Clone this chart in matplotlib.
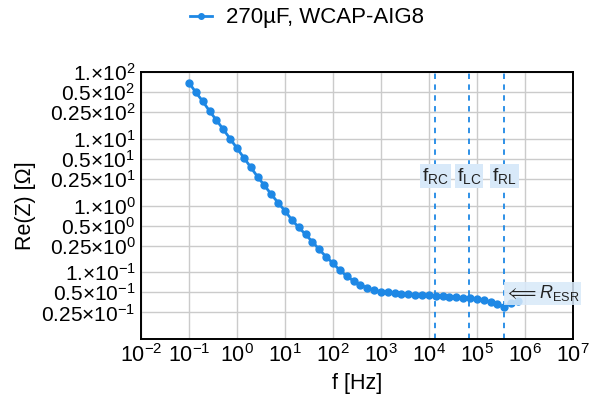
import matplotlib
matplotlib.use("Agg")
import matplotlib.pyplot as plt
import matplotlib.ticker as mticker

plt.rcParams["font.family"] = ["Liberation Sans", "DejaVu Sans"]
plt.rcParams["mathtext.fontset"] = "custom"
plt.rcParams["mathtext.rm"] = "Liberation Sans"
plt.rcParams["mathtext.it"] = "Liberation Sans:italic"
plt.rcParams["mathtext.bf"] = "Liberation Sans:bold"

# Frequency sweep [Hz]
freq = [0.1, 0.139, 0.193, 0.268, 0.373, 0.518, 0.720,
        1.0, 1.39, 1.93, 2.68, 3.73, 5.18, 7.20,
        10, 13.9, 19.3, 26.8, 37.3, 51.8, 72.0,
        100, 139, 193, 268, 373, 518, 720,
        1e3, 1.39e3, 1.93e3, 2.68e3, 3.73e3, 5.18e3, 7.20e3,
        1e4, 1.39e4, 1.93e4, 2.68e4, 3.73e4, 5.18e4, 7.20e4,
        1e5, 1.39e5, 1.93e5, 2.68e5, 3.73e5, 5.18e5, 7.20e5]

# Real part of impedance [Ohm]
re_z = [69, 49.5, 36.5, 26, 19, 13.8, 10.0,
        7.2, 5.2, 3.75, 2.7, 2.0, 1.47, 1.10,
        0.83, 0.61, 0.47, 0.37, 0.285, 0.22, 0.17,
        0.137, 0.107, 0.088, 0.074, 0.065, 0.058, 0.054,
        0.051, 0.0498, 0.0486, 0.0476, 0.047, 0.046, 0.0454,
        0.0449, 0.044, 0.0434, 0.0428, 0.042, 0.0413, 0.0405,
        0.0395, 0.038, 0.036, 0.0335, 0.030, 0.0345, 0.037]

series_label = "270µF, WCAP-AIG8"

# Characteristic frequencies [Hz]
marker_names = [r"$\mathrm{f}_{\mathrm{RC}}$", r"$\mathrm{f}_{\mathrm{LC}}$", r"$\mathrm{f}_{\mathrm{RL}}$"]
marker_freqs = [1.35e4, 6.9e4, 3.73e5]
marker_label_y = 2.75

esr_freq = 3.73e5
esr_label_y = 0.0486

x_ticks = [1e-2, 1e-1, 1e0, 1e1, 1e2, 1e3, 1e4, 1e5, 1e6, 1e7]
y_ticks = [0.025, 0.05, 0.1, 0.25, 0.5, 1, 2.5, 5, 10, 25, 50, 100]
y_tick_labels = ["0.25×10$^{-1}$", "0.5×10$^{-1}$", "1.×10$^{-1}$",
                 "0.25×10$^{0}$", "0.5×10$^{0}$", "1.×10$^{0}$",
                 "0.25×10$^{1}$", "0.5×10$^{1}$", "1.×10$^{1}$",
                 "0.25×10$^{2}$", "0.5×10$^{2}$", "1.×10$^{2}$"]

blue = "#1e88e5"
box_blue = "#d8e9f9"

fig = plt.figure(figsize=(5.9, 4.0), dpi=100)
ax = fig.add_axes([0.239, 0.1525, 0.732, 0.6675])

ax.set_xscale("log")
ax.set_yscale("log")
ax.set_xlim(1e-2, 1e7)
ax.set_ylim(0.01, 100)

ax.set_xticks(x_ticks)
ax.xaxis.set_major_formatter(mticker.LogFormatterMathtext())
ax.xaxis.set_minor_locator(mticker.NullLocator())
ax.set_yticks(y_ticks)
ax.set_yticklabels(y_tick_labels)
ax.yaxis.set_minor_locator(mticker.NullLocator())
ax.tick_params(axis="x", length=0, labelsize=15.5, pad=4)
ax.tick_params(axis="y", length=0, labelsize=15, pad=4)

ax.grid(True, color="#cbcbcb", lw=1.0)
ax.set_axisbelow(True)
for sp in ax.spines.values():
    sp.set_linewidth(1.4)
    sp.set_color("black")

for fx in marker_freqs:
    ax.axvline(fx, color=blue, lw=1.3, ls=(0, (3, 3)), zorder=2)

line, = ax.plot(freq, re_z, color=blue, lw=2, marker="o", ms=5,
                label=series_label, zorder=3)

for name, fx in zip(marker_names, marker_freqs):
    ax.text(fx, marker_label_y, name, ha="center", va="center", fontsize=14,
            color="#222222", zorder=4,
            bbox=dict(boxstyle="square,pad=0.1", fc=box_blue, ec="none"))

ax.text(esr_freq * 1.05, esr_label_y, r"$\Longleftarrow R_{\mathrm{ESR}}$",
        ha="left", va="center", fontsize=13, color="#222222", zorder=4,
        bbox=dict(boxstyle="square,pad=0.08", fc=box_blue, ec="none", alpha=0.85))

ax.set_xlabel("f [Hz]", fontsize=15.5, labelpad=4)
ax.set_ylabel("Re(Z) [Ω]", fontsize=15.5, labelpad=4)

fig.legend(handles=[line], labels=[series_label], loc="center",
           bbox_to_anchor=(0.52, 0.955), frameon=False, fontsize=16,
           handlelength=1.0, handletextpad=0.6, markerscale=0.8)

fig.savefig("out.png", dpi=100)
